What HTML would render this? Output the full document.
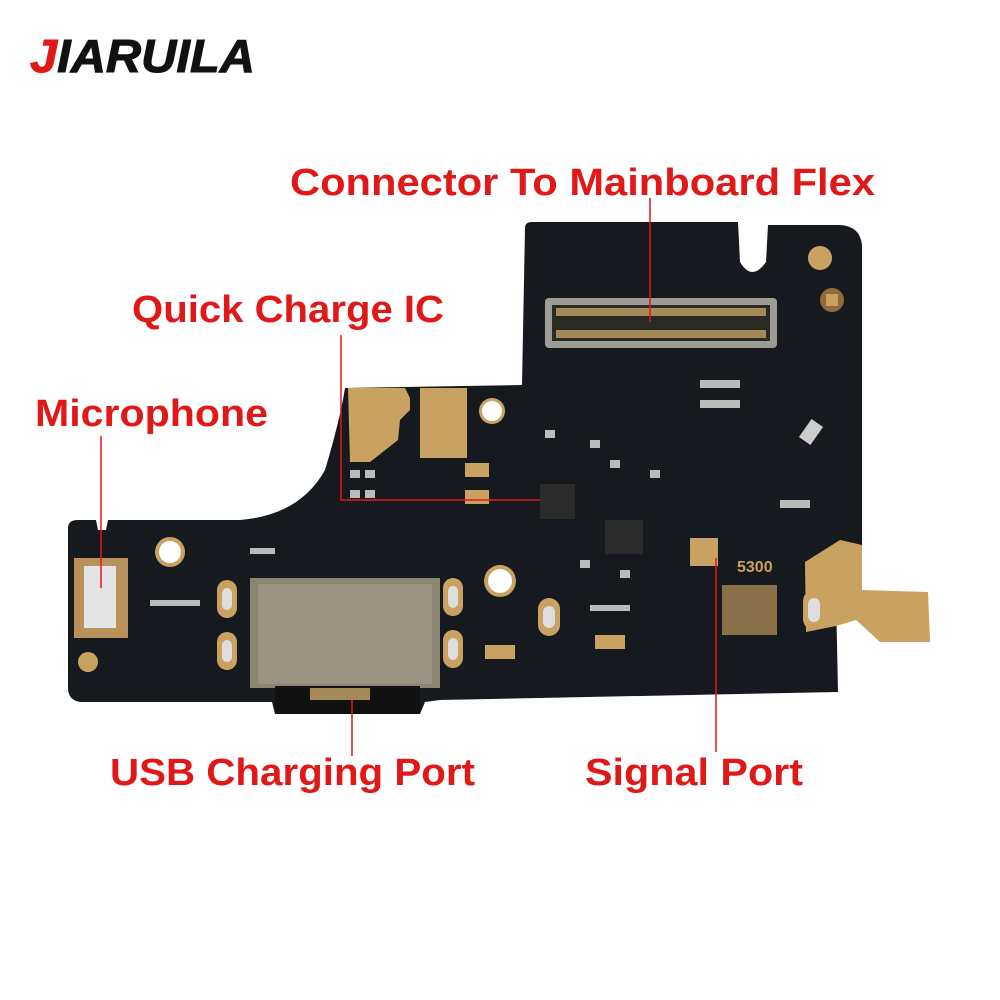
<!DOCTYPE html>
<html><head><meta charset="utf-8"><style>
html,body{margin:0;padding:0;background:#fff;}
svg{display:block;}
text{font-family:"Liberation Sans","DejaVu Sans",sans-serif;font-weight:bold;}
</style></head><body>
<svg width="1000" height="1000" viewBox="0 0 1000 1000" xmlns="http://www.w3.org/2000/svg">
<rect width="1000" height="1000" fill="#fff"/>
<text x="30" y="72" font-size="46" font-style="italic" fill="#111" stroke="#111" stroke-width="1" textLength="225" lengthAdjust="spacingAndGlyphs"><tspan fill="#e01818" stroke="#e01818">J</tspan>IARUILA</text>

<!-- board -->
<path d="M525,228 Q525,222 532,222 L738,222 L740,262 Q752,282 766,262 L768,225 L840,225 Q860,226 862,245 L862,545 L835,548 L838,692 L440,700 L425,702 L420,714 L275,714 L272,702 L80,702 Q68,700 68,688 L68,528 Q68,520 78,520 L96,520 L98,530 L106,530 L108,520 L240,520 Q300,515 325,470 Q340,420 345,388 L522,385 Z" fill="#161a1f"/>
<!-- gold tab right -->
<path d="M805,562 L840,540 L862,545 L862,590 L928,592 L930,642 L880,642 L856,620 L836,626 L806,632 Z" fill="#c9a262"/>
<!-- gold pad upper left -->
<path d="M348,388 L405,388 L410,398 L410,410 L400,420 L398,440 L370,462 L350,462 Z" fill="#c9a262"/>
<rect x="420" y="388" width="47" height="70" fill="#c9a262"/>
<rect x="74" y="558" width="54" height="80" fill="#b8925a"/>
<rect x="84" y="566" width="32" height="62" fill="#e4e4e4"/>
<circle cx="88" cy="662" r="10" fill="#c9a262"/>
<circle cx="820" cy="258" r="12" fill="#c9a262"/>
<circle cx="832" cy="300" r="12" fill="#8e6a3c"/>
<rect x="826" y="294" width="12" height="12" fill="#c9a262"/>
<circle cx="492" cy="411" r="13" fill="#c9a262"/><circle cx="492" cy="411" r="10" fill="#fff"/>
<circle cx="170" cy="552" r="15" fill="#c9a262"/><circle cx="170" cy="552" r="11" fill="#fff"/>
<circle cx="500" cy="581" r="16" fill="#c9a262"/><circle cx="500" cy="581" r="12" fill="#fff"/>
<rect x="545" y="298" width="232" height="50" rx="4" fill="#9c9c94"/>
<rect x="552" y="305" width="218" height="36" fill="#2a2a24"/>
<rect x="556" y="308" width="210" height="8" fill="#a48a58"/>
<rect x="556" y="330" width="210" height="8" fill="#a48a58"/>
<rect x="250" y="578" width="190" height="110" fill="#8c8574"/>
<rect x="258" y="584" width="174" height="100" fill="#9a9282"/>
<rect x="275" y="686" width="145" height="28" fill="#111"/>
<rect x="310" y="688" width="60" height="12" fill="#a48a58"/>
<g fill="#c9a262"><rect x="217" y="580" width="20" height="38" rx="10"/><rect x="217" y="632" width="20" height="38" rx="10"/><rect x="443" y="578" width="20" height="38" rx="10"/><rect x="443" y="630" width="20" height="38" rx="10"/><rect x="538" y="598" width="22" height="38" rx="11"/><rect x="803" y="590" width="22" height="40" rx="11"/></g>
<g fill="#ddd"><rect x="222" y="588" width="10" height="22" rx="5"/><rect x="222" y="640" width="10" height="22" rx="5"/><rect x="448" y="586" width="10" height="22" rx="5"/><rect x="448" y="638" width="10" height="22" rx="5"/><rect x="543" y="606" width="12" height="22" rx="6"/><rect x="808" y="598" width="12" height="24" rx="6"/></g>
<rect x="540" y="484" width="35" height="35" fill="#2b2b2b"/>
<rect x="605" y="520" width="38" height="34" fill="#2b2b2b"/>
<rect x="800" y="425" width="22" height="14" transform="rotate(-55 811 432)" fill="#ccc"/>
<g fill="#c9a262">
<rect x="465" y="463" width="24" height="14"/><rect x="465" y="490" width="24" height="14"/>
<rect x="485" y="645" width="30" height="14"/><rect x="595" y="635" width="30" height="14"/>
<rect x="690" y="538" width="28" height="28"/>
</g>
<g fill="#bbb">
<rect x="350" y="470" width="10" height="8"/><rect x="365" y="470" width="10" height="8"/><rect x="350" y="490" width="10" height="8"/><rect x="365" y="490" width="10" height="8"/>
<rect x="545" y="430" width="10" height="8"/><rect x="590" y="440" width="10" height="8"/><rect x="610" y="460" width="10" height="8"/><rect x="650" y="470" width="10" height="8"/><rect x="700" y="380" width="40" height="8"/><rect x="700" y="400" width="40" height="8"/><rect x="780" y="500" width="30" height="8"/><rect x="580" y="560" width="10" height="8"/><rect x="620" y="570" width="10" height="8"/><rect x="250" y="548" width="25" height="6"/><rect x="150" y="600" width="50" height="6"/><rect x="590" y="605" width="40" height="6"/>
</g>
<rect x="722" y="585" width="55" height="50" fill="#8a7048"/>
<text x="737" y="572" font-size="16" fill="#c9a262">5300</text>

<g stroke="#e01818" stroke-width="1.5" fill="none">
<line x1="650" y1="198" x2="650" y2="322"/>
<polyline points="341,335 341,500 540,500"/>
<line x1="101" y1="436" x2="101" y2="588"/>
<line x1="352" y1="700" x2="352" y2="756"/>
<line x1="716" y1="558" x2="716" y2="752"/>
</g>
<g fill="#e01818" font-size="38">
<text x="290" y="195" textLength="585" lengthAdjust="spacingAndGlyphs">Connector To Mainboard Flex</text>
<text x="132" y="322" textLength="312" lengthAdjust="spacingAndGlyphs">Quick Charge IC</text>
<text x="35" y="426" textLength="233" lengthAdjust="spacingAndGlyphs">Microphone</text>
<text x="110" y="785" textLength="365" lengthAdjust="spacingAndGlyphs">USB Charging Port</text>
<text x="585" y="785" textLength="218" lengthAdjust="spacingAndGlyphs">Signal Port</text>
</g>
</svg>
</body></html>
